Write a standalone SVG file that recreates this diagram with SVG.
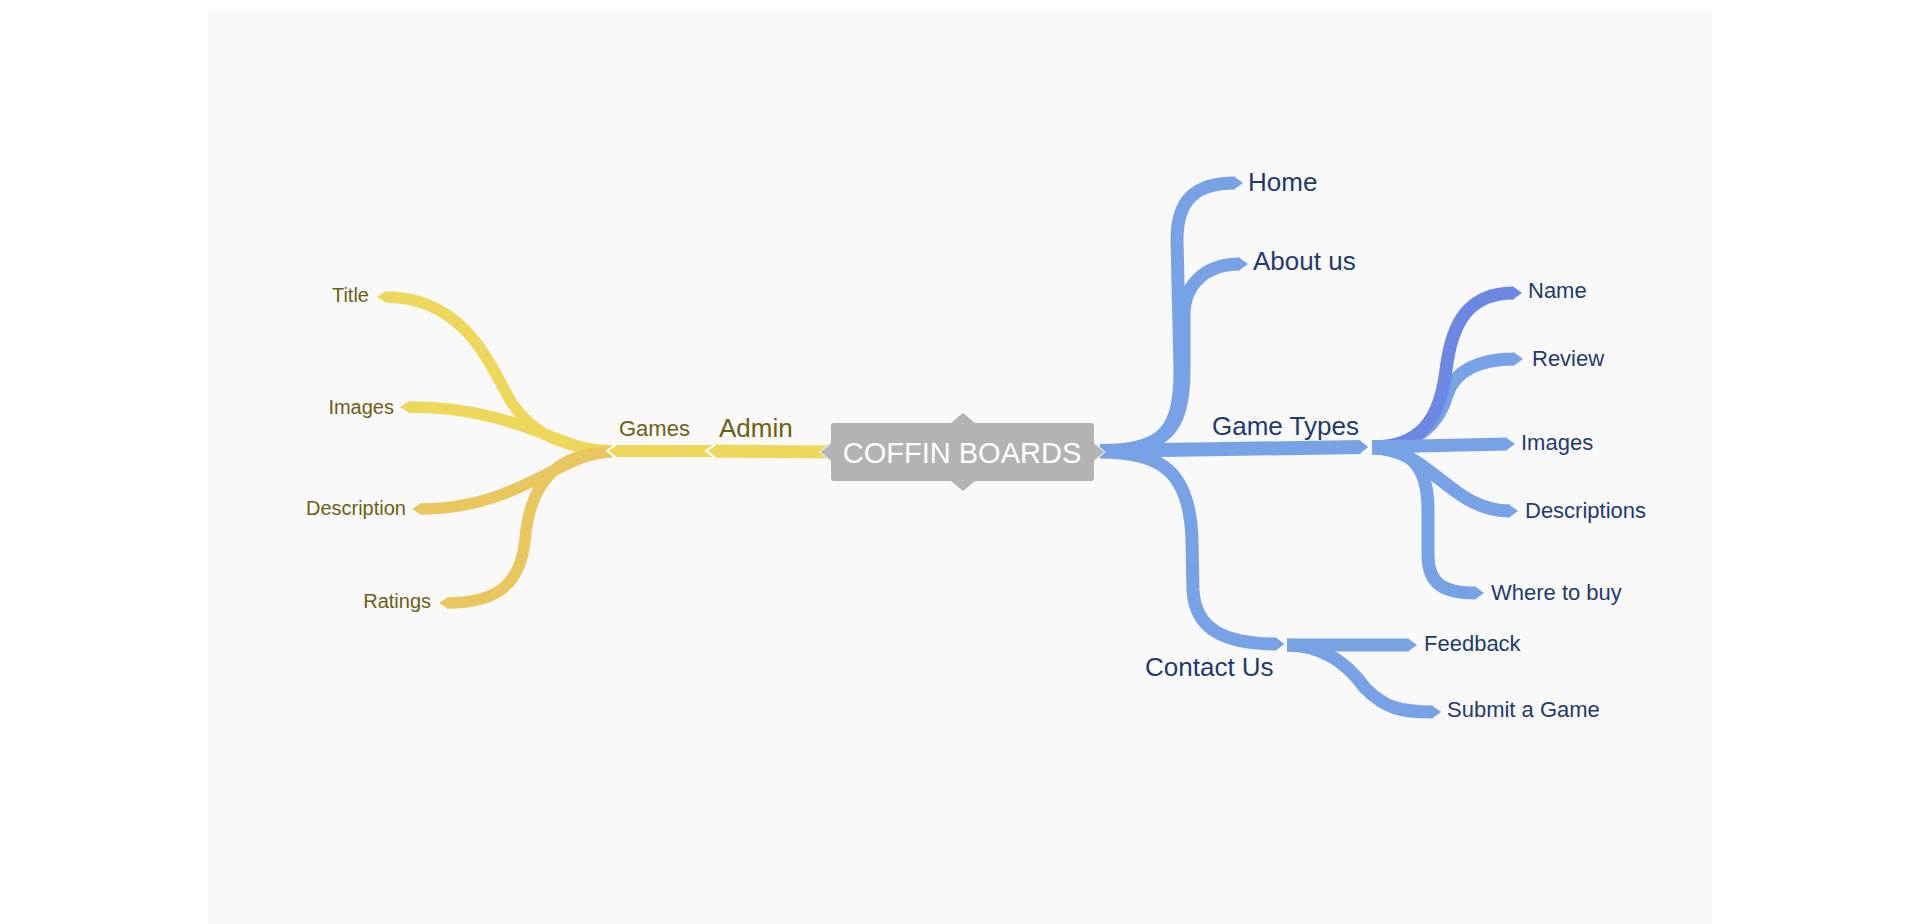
<svg xmlns="http://www.w3.org/2000/svg" width="1920" height="924" viewBox="0 0 1920 924">
<style>
.b{fill:none;stroke-linecap:butt;stroke-linejoin:round}
.y{stroke:#EDD85C;stroke-width:11.5}
.o{stroke:#E9C75E;stroke-width:11.5}
.bl{stroke:#78A2E6;stroke-width:13}
.p{stroke:#6D88E3;stroke-width:13}
.tl{font-family:"Liberation Sans",Arial,sans-serif;fill:#6E6012}
.tr{font-family:"Liberation Sans",Arial,sans-serif;fill:#1F3B6E}
.s20{font-size:20px}.s22{font-size:22px}.s26{font-size:26px}
</style>
<defs>
<marker id="tipY" markerUnits="userSpaceOnUse" markerWidth="24" markerHeight="24" viewBox="-12 -12 24 24" refX="0" refY="0" orient="auto" overflow="visible"><path d="M-1,-5.75 L8,0 L-1,5.75 Z" fill="#EDD85C"/></marker>
<marker id="tipO" markerUnits="userSpaceOnUse" markerWidth="24" markerHeight="24" viewBox="-12 -12 24 24" refX="0" refY="0" orient="auto" overflow="visible"><path d="M-1,-5.75 L8,0 L-1,5.75 Z" fill="#E9C75E"/></marker>
<marker id="tipYw" markerUnits="userSpaceOnUse" markerWidth="24" markerHeight="24" viewBox="-12 -12 24 24" refX="0" refY="0" orient="auto" overflow="visible"><path d="M-1,-6.5 L8,0 L-1,6.5" fill="#EDD85C" stroke="#fff" stroke-width="2"/></marker>
<marker id="tipB" markerUnits="userSpaceOnUse" markerWidth="24" markerHeight="24" viewBox="-12 -12 24 24" refX="0" refY="0" orient="auto" overflow="visible"><path d="M-1,-6.5 L8,0 L-1,6.5 Z" fill="#78A2E6"/></marker>
<marker id="tipP" markerUnits="userSpaceOnUse" markerWidth="24" markerHeight="24" viewBox="-12 -12 24 24" refX="0" refY="0" orient="auto" overflow="visible"><path d="M-1,-6.5 L8,0 L-1,6.5 Z" fill="#6D88E3"/></marker>
<marker id="tipBw" markerUnits="userSpaceOnUse" markerWidth="24" markerHeight="24" viewBox="-12 -12 24 24" refX="0" refY="0" orient="auto" overflow="visible"><path d="M-1,-7 L8,0 L-1,7" fill="#78A2E6" stroke="#fff" stroke-width="2"/></marker>
</defs>
<rect x="0" y="0" width="1920" height="924" fill="#ffffff"/>
<rect x="208" y="10" width="1504" height="914" fill="#f9f9f9"/>

<g id="connectors">
  <!-- left leaves -->
  <path class="b y" d="M612 451 C575 449 535 440 510 400 C490 365 465 297 385 297" marker-end="url(#tipY)"/>
  <path class="b y" d="M612 452 C560 452 520 407 408 407" marker-end="url(#tipY)"/>
  <path class="b o" d="M612 452 C560 452 520 509 420 509" marker-end="url(#tipO)"/>
  <path class="b o" d="M612 452 C560 452 530 480 525 540 C520 590 490 603 447 603" marker-end="url(#tipO)"/>
  <path class="b y" style="stroke-width:12" d="M712 451 L615 451" marker-end="url(#tipYw)"/>
  <path class="b y" style="stroke-width:13" d="M832 452 L714 451" marker-end="url(#tipYw)"/>
  <!-- right leaves -->
  <path class="b bl" d="M1372 447 C1420 447 1440 420 1447 395 C1455 370 1480 359 1515 359" marker-end="url(#tipB)"/>
  <path class="b p" d="M1372 447 C1420 447 1440 420 1446 370 C1452 320 1470 293 1514 293" marker-end="url(#tipP)"/>
  <path class="b bl" d="M1372 447 L1507 444" marker-end="url(#tipB)"/>
  <path class="b bl" d="M1372 448 C1430 448 1450 511 1510 511" marker-end="url(#tipB)"/>
  <path class="b bl" d="M1372 448 C1410 448 1428 465 1428 510 L1428 555 C1428 585 1445 593 1476 593" marker-end="url(#tipB)"/>
  <path class="b bl" d="M1287 645 L1409 645" marker-end="url(#tipB)"/>
  <path class="b bl" d="M1287 645 C1320 645 1345 660 1365 688 C1385 708 1400 712 1433 712" marker-end="url(#tipB)"/>
  <!-- right first level -->
  <path class="b bl" d="M1100 451 C1165 451 1180 430 1180 370 L1177 240 C1177 200 1195 183 1235 183" marker-end="url(#tipB)"/>
  <path class="b bl" d="M1100 451 C1165 451 1184 430 1184 370 L1184 315 C1184 285 1205 264 1240 264" marker-end="url(#tipB)"/>
  <path class="b bl" d="M1100 452 C1160 452 1190 470 1192 540 L1193 590 C1195 630 1225 644 1278 644" marker-end="url(#tipBw)"/>
  <path class="b bl" style="stroke-width:14" d="M1100 451 L1362 447" marker-end="url(#tipBw)"/>
</g>

<g id="node-root">
  <path d="M834 423 L951 423 L963 413 L975 423 L1091 423 Q1094 423 1094 426 L1094 443 L1105 452 L1094 461 L1094 478 Q1094 481 1091 481 L975 481 L963 491 L951 481 L834 481 Q831 481 831 478 L831 461 L820 452 L831 443 L831 426 Q831 423 834 423 Z" fill="#B3B3B3"/>
  <polyline points="831,443 820,452 831,461" fill="none" stroke="#e6e6e6" stroke-width="1.2"/>
  <polyline points="1094,443 1105,452 1094,461" fill="none" stroke="#e6e6e6" stroke-width="1.2"/>
  <text x="962" y="463" text-anchor="middle" font-family="'Liberation Sans',Arial,sans-serif" font-size="29" fill="#ffffff">COFFIN BOARDS</text>
</g>

<g id="node-admin"><text class="tl s26" x="719" y="437">Admin</text></g>
<g id="node-games"><text class="tl s22" x="619" y="436">Games</text></g>
<g id="node-title"><text class="tl s20" x="369" y="302" text-anchor="end">Title</text></g>
<g id="node-images-l"><text class="tl s20" x="394" y="414" text-anchor="end">Images</text></g>
<g id="node-description"><text class="tl s20" x="406" y="515" text-anchor="end">Description</text></g>
<g id="node-ratings"><text class="tl s20" x="431" y="608" text-anchor="end">Ratings</text></g>

<g id="node-home"><text class="tr s26" x="1248" y="191">Home</text></g>
<g id="node-about"><text class="tr s26" x="1253" y="270">About us</text></g>
<g id="node-gametypes"><text class="tr s26" x="1212" y="435">Game Types</text></g>
<g id="node-contact"><text class="tr s26" x="1145" y="676">Contact Us</text></g>
<g id="node-name"><text class="tr s22" x="1528" y="298">Name</text></g>
<g id="node-review"><text class="tr s22" x="1532" y="366">Review</text></g>
<g id="node-images-r"><text class="tr s22" x="1521" y="450">Images</text></g>
<g id="node-descriptions"><text class="tr s22" x="1525" y="518">Descriptions</text></g>
<g id="node-wheretobuy"><text class="tr s22" x="1491" y="600">Where to buy</text></g>
<g id="node-feedback"><text class="tr s22" x="1424" y="651">Feedback</text></g>
<g id="node-submit"><text class="tr s22" x="1447" y="717">Submit a Game</text></g>
</svg>
